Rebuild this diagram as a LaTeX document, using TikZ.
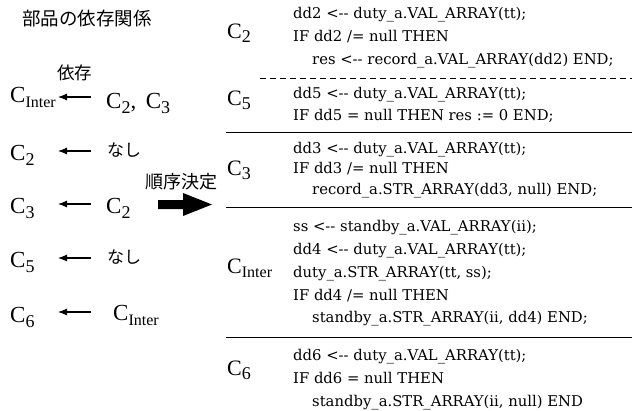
\documentclass[tikz,border=0pt]{standalone}
\usepackage{fontspec}
\usetikzlibrary{arrows.meta}
\setmainfont{Liberation Serif}
\newfontfamily\jp{Noto Sans CJK JP}
\newfontfamily\djv{DejaVu Serif}
\newcommand\codefont{\djv\fontsize{14.8}{14.8}\selectfont}
\newcommand\CC[1]{C\raisebox{-0.22em}{\fontsize{18}{18}\selectfont #1}}
\newcommand\CI{C\raisebox{-0.22em}{\fontsize{16}{16}\selectfont Inter}}
\begin{document}
\begin{tikzpicture}[x=1pt,y=-1pt,
  cjk/.style={inner sep=0pt, anchor=west, font=\jp},
  bigC/.style={inner sep=0pt, anchor=base west, font=\fontsize{23}{23}\selectfont},
  midC/.style={inner sep=0pt, anchor=base west, font=\fontsize{22}{22}\selectfont},
  code/.style={inner sep=0pt, anchor=base west, font=\codefont},
  dep/.style={-{Latex[length=9pt,width=7pt]}, line width=1.1pt},
  sepline/.style={line width=1pt},
  dsep/.style={line width=1pt, dash pattern=on 6pt off 4pt}]
\useasboundingbox (0,0) rectangle (637,410);

% ---- left column ----
\node[cjk, font=\jp\fontsize{18.5}{18.5}\selectfont] (title) at (22,18) {部品の依存関係};
\node[cjk, font=\jp\fontsize{17.5}{17.5}\selectfont] (izon) at (57,73) {依存};

\node[bigC] (l1) at (10,102) {\CI};
\node[bigC] (r1) at (106,108) {\CC{2},\, \CC{3}};
\node[bigC] (l2) at (10,160) {\CC{2}};
\node[cjk, font=\jp\fontsize{17}{17}\selectfont] (r2) at (107,150) {なし};
\node[bigC] (l3) at (10,213) {\CC{3}};
\node[bigC] (r3) at (106,213) {\CC{2}};
\node[bigC] (l4) at (10,267) {\CC{5}};
\node[cjk, font=\jp\fontsize{17}{17}\selectfont] (r4) at (107,257) {なし};
\node[bigC] (l5) at (10,322) {\CC{6}};
\node[bigC] (r5) at (113,320) {\CI};

\foreach \i/\y in {1/97,2/151,3/204,4/258,5/312}{
  \coordinate (t\i) at (91,\y);
  \coordinate (h\i) at (58,\y);
  \draw[dep] (t\i) -- (h\i);
}

\node[cjk, font=\jp\fontsize{18}{18}\selectfont] (order) at (145,182) {順序決定};
\fill (158,200) -- (183,200) -- (183,193) -- (212,204.5) -- (183,216) -- (183,209) -- (158,209) -- cycle;

% ---- right column ----
\node[midC] (k2) at (227,38) {\CC{2}};
\node[code] (a1) at (293,18) {dd2 <-{}- duty\_a.VAL\_ARRAY(tt);};
\node[code] (a2) at (293,41) {IF dd2 /= null THEN};
\node[code] (a3) at (312,64) {res <-{}- record\_a.VAL\_ARRAY(dd2) END;};

\coordinate (d1) at (260,78); \coordinate (d2) at (632,78);
\draw[dsep] (d1) -- (d2);

\node[midC] (k5) at (227,105) {\CC{5}};
\node[code] (b1) at (293,98) {dd5 <-{}- duty\_a.VAL\_ARRAY(tt);};
\node[code] (b2) at (293,120) {IF dd5 = null THEN res := 0 END;};

\coordinate (s1a) at (226,132); \coordinate (s1b) at (632,132);
\draw[sepline] (s1a) -- (s1b);

\node[midC] (k3) at (227,175) {\CC{3}};
\node[code] (c1) at (293,153) {dd3 <-{}- duty\_a.VAL\_ARRAY(tt);};
\node[code] (c2) at (293,173) {IF dd3 /= null THEN};
\node[code] (c3) at (312,194) {record\_a.STR\_ARRAY(dd3, null) END;};

\coordinate (s2a) at (226,207); \coordinate (s2b) at (632,207);
\draw[sepline] (s2a) -- (s2b);

\node[midC] (ki) at (227,273) {\CI};
\node[code] (e1) at (293,231) {ss <-{}- standby\_a.VAL\_ARRAY(ii);};
\node[code] (e2) at (293,254) {dd4 <-{}- duty\_a.VAL\_ARRAY(tt);};
\node[code] (e3) at (293,277) {duty\_a.STR\_ARRAY(tt, ss);};
\node[code] (e4) at (293,300) {IF dd4 /= null THEN};
\node[code] (e5) at (312,322) {standby\_a.STR\_ARRAY(ii, dd4) END;};

\coordinate (s3a) at (226,337); \coordinate (s3b) at (632,337);
\draw[sepline] (s3a) -- (s3b);

\node[midC] (k6) at (227,375) {\CC{6}};
\node[code] (f1) at (293,360) {dd6 <-{}- duty\_a.VAL\_ARRAY(tt);};
\node[code] (f2) at (293,383) {IF dd6 = null THEN};
\node[code] (f3) at (312,406) {standby\_a.STR\_ARRAY(ii, null) END};
\end{tikzpicture}
\end{document}
